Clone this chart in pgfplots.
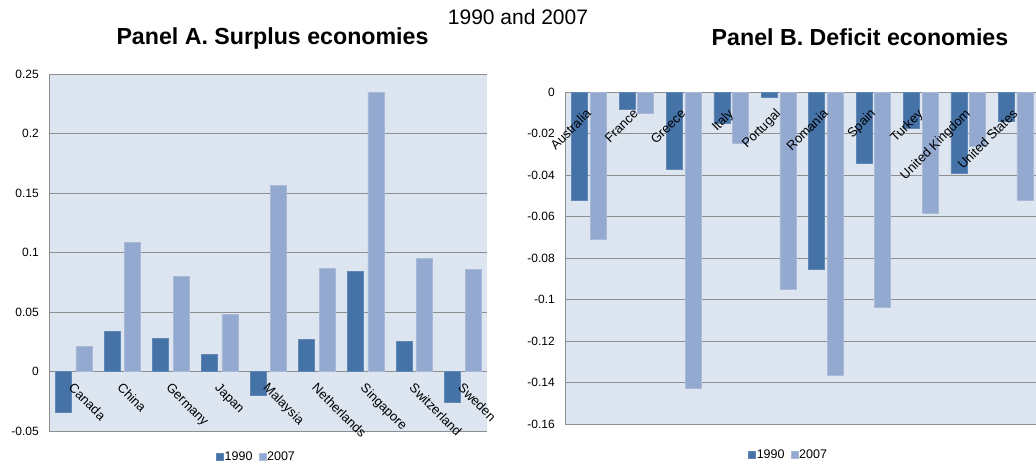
\documentclass[border=0pt]{standalone}
\usepackage{fontspec}
\setmainfont{Liberation Sans}
\usepackage{pgfplots}
\pgfplotsset{compat=1.18}

\definecolor{dark}{HTML}{4572A7}
\definecolor{light}{HTML}{93A9CF}
\definecolor{bg}{HTML}{DCE5F0}
\definecolor{gridc}{HTML}{8E8E8E}

% 1pt in the picture = 1px in the reference
\pgfplotsset{
  panel/.style={
    scale only axis,
    enlargelimits=false,
    clip=false,
    axis background/.style={fill=bg},
    axis x line*=middle,
    axis y line*=left,
    axis line style={gridc, line width=1pt},
    ymajorgrids,
    grid style={gridc, line width=1pt},
    major tick length=0pt,
    tick label style={font=\fontsize{12}{14}\selectfont},
    yticklabel style={xshift=-7pt},
    xtick={0,...,9},
    xticklabels={},
    bar width=16pt,
    legend columns=2,
    legend cell align=left,
    legend style={draw=none, fill=none, font=\fontsize{12.5}{14}\selectfont,
      inner sep=0pt,
      nodes={inner sep=1pt},
      /tikz/every even column/.append style={column sep=5pt}},
  },
  sq legend/.style={legend image code/.code={\fill[##1] (0pt,-3.5pt) rectangle (7pt,3.5pt);}},
  y1990/.style={fill=dark, draw=dark!85!white, line width=0.6pt, sq legend},
  y2007/.style={fill=light, draw=light!80!white, line width=0.6pt, sq legend},
}
\tikzset{
  labA/.style={xshift=1pt, yshift=-2pt, rotate=-45, anchor=north west, inner sep=6pt, font=\fontsize{13}{15}\selectfont},
  labB/.style={xshift=-4pt, yshift=-7pt, rotate=45, anchor=north east, inner sep=6pt, font=\fontsize{13}{15}\selectfont},
}

\begin{document}
\begin{tikzpicture}

% Panel A
\begin{axis}[panel,
  at={(49.3pt,36pt)}, anchor=south west,
  width=438pt, height=357pt,
  xmin=-0.5, xmax=8.5, ymin=-0.05, ymax=0.25,
  ybar=4.5pt,
  ytick={-0.05,0,0.05,0.1,0.15,0.2,0.25},
  yticklabels={-0.05,0,0.05,0.1,0.15,0.2,0.25},
  legend style={at={(0.472,-0.073)}, anchor=center},
]
\addplot[y1990] coordinates {
  (0,-0.0340) (1,0.0334) (2,0.0281) (3,0.0146) (4,-0.0199)
  (5,0.0273) (6,0.0842) (7,0.0256) (8,-0.0261)};
\addplot[y2007] coordinates {
  (0,0.0208) (1,0.1086) (2,0.0797) (3,0.0477) (4,0.1561)
  (5,0.0867) (6,0.2343) (7,0.0949) (8,0.0859)};
\legend{1990,2007}
% category names hang from the zero line, on top of the bars
\node[labA] at (axis cs:0,0) {Canada};
\node[labA] at (axis cs:1,0) {China};
\node[labA] at (axis cs:2,0) {Germany};
\node[labA] at (axis cs:3,0) {Japan};
\node[labA] at (axis cs:4,0) {Malaysia};
\node[labA] at (axis cs:5,0) {Netherlands};
\node[labA] at (axis cs:6,0) {Singapore};
\node[labA] at (axis cs:7,0) {Switzerland};
\node[labA] at (axis cs:8,0) {Sweden};
\end{axis}

% Panel B
\begin{axis}[panel,
  at={(565.3pt,42.7pt)}, anchor=south west,
  width=474pt, height=332pt,
  xmin=-0.5, xmax=9.5, ymin=-0.16, ymax=0,
  ybar=2.7pt,
  ytick={-0.16,-0.14,-0.12,-0.1,-0.08,-0.06,-0.04,-0.02,0},
  yticklabels={-0.16,-0.14,-0.12,-0.1,-0.08,-0.06,-0.04,-0.02,0},
  legend style={at={(0.47,-0.0925)}, anchor=center},
]
\addplot[y1990] coordinates {
  (0,-0.0520) (1,-0.0080) (2,-0.0371) (3,-0.0149) (4,-0.0023)
  (5,-0.0852) (6,-0.0344) (7,-0.0172) (8,-0.0389) (9,-0.0138)};
\addplot[y2007] coordinates {
  (0,-0.0708) (1,-0.0103) (2,-0.1428) (3,-0.0246) (4,-0.0949)
  (5,-0.1366) (6,-0.1036) (7,-0.0583) (8,-0.0262) (9,-0.0520)};
\legend{1990,2007}
\node[labB] at (axis cs:0,0) {Australia};
\node[labB] at (axis cs:1,0) {France};
\node[labB] at (axis cs:2,0) {Greece};
\node[labB] at (axis cs:3,0) {Italy};
\node[labB] at (axis cs:4,0) {Portugal};
\node[labB] at (axis cs:5,0) {Romania};
\node[labB] at (axis cs:6,0) {Spain};
\node[labB] at (axis cs:7,0) {Turkey};
\node[labB] at (axis cs:8,0) {United Kingdom};
\node[labB] at (axis cs:9,0) {United States};
\end{axis}

\node[anchor=base, font=\fontsize{21}{24}\selectfont] at (518pt,442pt) {1990 and 2007};
\node[anchor=base, font=\bfseries\fontsize{23.2}{26}\selectfont] at (272.5pt,422pt) {Panel A. Surplus economies};
\node[anchor=base, font=\bfseries\fontsize{23.2}{26}\selectfont] at (860pt,421.5pt) {Panel B. Deficit economies};

\pgfresetboundingbox
\useasboundingbox (0pt,0pt) rectangle (1036pt,467pt);
\end{tikzpicture}
\end{document}
